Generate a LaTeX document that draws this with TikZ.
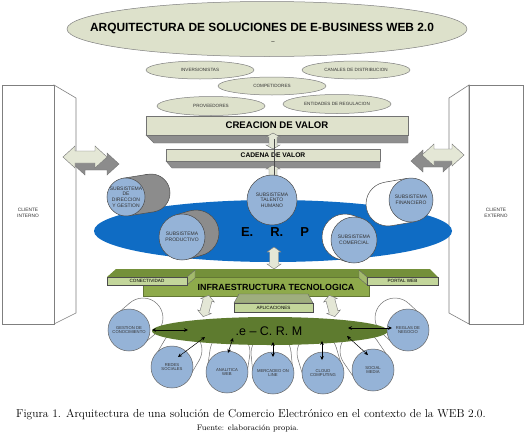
\documentclass[tikz,border=0pt]{standalone}
\usepackage{fontspec}
\setsansfont{Liberation Sans}
\usetikzlibrary{shapes.geometric,calc,arrows.meta}
\definecolor{sage}{HTML}{DDE1CB}
\definecolor{outl}{HTML}{7F7F7F}
\definecolor{cblue}{HTML}{95B3D7}
\definecolor{erpblue}{HTML}{0F6CC4}
\definecolor{cylgray}{HTML}{8C8C8C}
\definecolor{boxface}{HTML}{DFE2CC}
\definecolor{boxshade}{HTML}{8E8E8E}
\definecolor{olive}{HTML}{8EAA4B}
\definecolor{olivetop}{HTML}{74903A}
\definecolor{oliveside}{HTML}{A3BA6C}
\definecolor{olivelight}{HTML}{C3D69B}
\definecolor{crm}{HTML}{5E7B2F}
\definecolor{arrowlight}{HTML}{E4E7D6}
\definecolor{aplitop}{HTML}{9FAE7E}

% cylinder body: #1 front coord, #2 back coord, #3 radius, #4 fill, #5 draw colour
\newcommand\cylbody[5]{%
  \filldraw[fill=#4, draw=#5, line width=0.5pt] (#2) circle (#3);
  \fill[#4] ($(#1)!#3!90:(#2)$) -- ($(#2)!#3!-90:(#1)$) -- ($(#2)!#3!90:(#1)$) -- ($(#1)!#3!-90:(#2)$) -- cycle;
  \draw[#5, line width=0.5pt] ($(#1)!#3!90:(#2)$) -- ($(#2)!#3!-90:(#1)$);
  \draw[#5, line width=0.5pt] ($(#1)!#3!-90:(#2)$) -- ($(#2)!#3!90:(#1)$);
}
% block double arrow: #1 centre, #2 rotation, #3 half length, #4 head length, #5 head half width, #6 shaft half width, #7 fill
\newcommand\blockarrow[7]{%
  \begin{scope}[shift={(#1)}, rotate=#2]
    \filldraw[fill=#7, draw=black!55, line width=0.4pt]
      (0,-#3) -- (#5,-#3+#4) -- (#6,-#3+#4) -- (#6,#3-#4) -- (#5,#3-#4) -- (0,#3)
      -- (-#5,#3-#4) -- (-#6,#3-#4) -- (-#6,-#3+#4) -- (-#5,-#3+#4) -- cycle;
  \end{scope}}

\begin{document}
\begin{tikzpicture}[x=1pt, y=-1pt,
  oval/.style={ellipse, draw=outl, fill=sage, inner sep=0pt, line width=0.5pt,
    font=\sffamily\fontsize{4.6}{5}\selectfont, text=black!80},
  sub/.style={circle, draw=black!70, fill=cblue, inner sep=0pt, line width=0.5pt, align=center,
    font=\sffamily\fontsize{5}{5.6}\selectfont, text=black!80},
  crmc/.style={circle, draw=black!60, fill=cblue, inner sep=0pt, line width=0.5pt, align=center,
    minimum size=42pt, font=\sffamily\fontsize{4.2}{4.8}\selectfont, text=black!80},
  small/.style={font=\sffamily\fontsize{4.8}{5.4}\selectfont, text=black!80, align=center},
  lightbox/.style={fill=olivelight, draw=black!70, line width=0.5pt},
  crmar/.style={{Stealth[length=4pt,width=3.6pt]}-{Stealth[length=4pt,width=3.6pt]}, line width=0.5pt, black}
]
\useasboundingbox[fill=white] (0,0) rectangle (525,445);

% ---------- title ----------
\node[ellipse, draw=outl, fill=sage, line width=0.5pt, minimum width=400pt, minimum height=55pt, inner sep=0pt] (title) at (267,29) {};
\node[font=\sffamily\bfseries\fontsize{11.9}{13}\selectfont] (titletxt) at (262,29) {ARQUITECTURA DE SOLUCIONES DE E-BUSINESS WEB 2.0};
\node[font=\sffamily\fontsize{6}{6}\selectfont] (dash) at (273,43) {--};

% ---------- stakeholders ----------
\node[oval, minimum width=108pt, minimum height=18pt] (inv) at (200,70) {INVERSIONISTAS};
\node[oval, minimum width=108pt, minimum height=18pt] (can) at (356,70) {CANALES DE DISTRIBUCION};
\node[oval, minimum width=108pt, minimum height=18pt] (com) at (272,86) {COMPETIDORES};
\node[oval, minimum width=108pt, minimum height=19pt] (pro) at (211,106) {PROVEEDORES};
\node[oval, minimum width=108pt, minimum height=19pt] (ent) at (337,104) {ENTIDADES DE REGULACION};

% ---------- clients ----------
\filldraw[fill=white, draw=outl, line width=0.6pt] (54,85) -- (76,98) -- (76,313) -- (54,324) -- cycle;
\node[draw=outl, fill=white, line width=0.6pt, minimum width=52pt, minimum height=239pt, inner sep=0pt] (cint) at (28,204.5) {};
\node[small] (cinttxt) at (28,213) {CLIENTE\\INTERNO};
\filldraw[fill=white, draw=outl, line width=0.6pt] (469,85) -- (449,98) -- (449,313) -- (469,324) -- cycle;
\node[draw=outl, fill=white, line width=0.6pt, minimum width=54pt, minimum height=239pt, inner sep=0pt] (cext) at (496,204.5) {};
\node[small] (cexttxt) at (496,213) {CLIENTE\\EXTERNO};

% ---------- side arrows ----------
\blockarrow{96,164}{90}{23}{12}{11}{6}{cylgray}
\blockarrow{85,157}{90}{22}{12}{11}{6}{arrowlight}
\blockarrow{433,161}{90}{22}{12}{11}{6}{cylgray}
\blockarrow{443,155}{90}{21}{12}{11}{6}{arrowlight}

% ---------- creacion / cadena ----------
\filldraw[fill=boxshade, draw=black!55, line width=0.4pt] (146,135) -- (154,143) -- (408,143) -- (408,135) -- cycle;
\node[draw=black!55, fill=boxface, line width=0.5pt, minimum width=262pt, minimum height=19pt, inner sep=0pt,
  font=\sffamily\bfseries\fontsize{9.6}{10}\selectfont] (creacion) at (277,125.5) {CREACION DE VALOR};
\blockarrow{273,141}{0}{8}{4}{7}{4}{arrowlight}
\filldraw[fill=boxshade, draw=black!55, line width=0.4pt] (166,161) -- (172,168) -- (380,168) -- (380,161) -- cycle;
\node[draw=black!55, fill=boxface, line width=0.5pt, minimum width=214pt, minimum height=12pt, inner sep=0pt,
  font=\sffamily\bfseries\fontsize{6.7}{7}\selectfont] (cadena) at (273,155) {CADENA DE VALOR};
\blockarrow{273,173}{0}{8}{4}{7}{4}{arrowlight}
\draw[black!70, line width=0.5pt] (creacion.south) ++(-3,4) coordinate (vl1) -- (274,178) coordinate (vl2);

% ---------- ERP ----------
\node[ellipse, fill=erpblue, minimum width=358pt, minimum height=62pt, inner sep=0pt] (erp) at (273,231) {};
\node[font=\sffamily\bfseries\fontsize{13}{14}\selectfont] (erptxt) at (275,232) {E.\hspace{17pt}R.\hspace{17pt}P};

\coordinate (dirF) at (126,197); \coordinate (dirB) at (151,193);
\cylbody{dirF}{dirB}{19pt}{cylgray}{black!70}
\node[sub, minimum size=38pt] (dir) at (dirF) {SUBSISTEMA\\DE\\DIRECCION\\Y GESTION};

\coordinate (prodF) at (182,237); \coordinate (prodB) at (196,233);
\cylbody{prodF}{prodB}{23pt}{cylgray}{black!70}
\node[sub, minimum size=46pt] (prod) at (prodF) {SUBSISTEMA\\PRODUCTIVO};

\coordinate (finF) at (411,200); \coordinate (finB) at (388,204);
\cylbody{finF}{finB}{22pt}{white}{black!70}
\node[sub, minimum size=44pt] (fin) at (finF) {SUBSISTEMA\\FINANCIERO};

\coordinate (comF) at (354,240); \coordinate (comB) at (345,237);
\cylbody{comF}{comB}{23pt}{white}{black!70}
\node[sub, minimum size=46pt] (comer) at (comF) {SUBSISTEMA\\COMERCIAL};

\node[sub, minimum size=50pt] (tal) at (272,200) {SUBSISTEMA\\TALENTO\\HUMANO};

\blockarrow{274,258}{0}{11}{5}{7}{4.5}{arrowlight}

% ---------- infraestructura ----------
\fill[olivetop] (107,277) -- (116,269) -- (430,269) -- (438,277) -- cycle;
\node[fill=olive, draw=olive!70!black, line width=0.4pt, minimum width=226pt, minimum height=19pt, inner sep=0pt] (infra) at (256,286.5) {};
\fill[oliveside, draw=black!60, line width=0.4pt] (187,277) -- (195,270) -- (195,278) -- (187,285) -- cycle;
\node[lightbox, minimum width=80pt, minimum height=8pt, inner sep=0pt, font=\sffamily\fontsize{4.6}{5}\selectfont] (conec) at (147,281) {CONECTIVIDAD};
\fill[oliveside, draw=black!60, line width=0.4pt] (367,277) -- (359,270) -- (359,278) -- (367,285) -- cycle;
\node[lightbox, minimum width=71pt, minimum height=8pt, inner sep=0pt, font=\sffamily\fontsize{4.6}{5}\selectfont] (portal) at (402.5,281) {PORTAL WEB};
\node[font=\sffamily\bfseries\fontsize{8.9}{9}\selectfont] (infratxt) at (276,287) {INFRAESTRUCTURA TECNOLOGICA};
\filldraw[fill=aplitop, draw=black!60, line width=0.4pt] (234,303) -- (239,294) -- (308,294) -- (313,303) -- cycle;
\node[lightbox, minimum width=79pt, minimum height=9pt, inner sep=0pt, font=\sffamily\fontsize{4.6}{5}\selectfont] (apli) at (273.5,307.5) {APLICACIONES};

\blockarrow{206,306}{-15}{11}{5}{7}{4.5}{arrowlight}
\blockarrow{332,306}{15}{11}{5}{7}{4.5}{arrowlight}

% ---------- e-CRM ----------
\coordinate (gesF) at (129,330); \coordinate (gesB) at (143,318);
\cylbody{gesF}{gesB}{20pt}{white}{black!55}
\coordinate (regF) at (408,330); \coordinate (regB) at (395,318);
\cylbody{regF}{regB}{20pt}{white}{black!55}
\coordinate (redF) at (172,367); \coordinate (redB) at (182,350);
\cylbody{redF}{redB}{20pt}{white}{black!55}
\coordinate (anaF) at (227,372); \coordinate (anaB) at (230,352);
\cylbody{anaF}{anaB}{20pt}{white}{black!55}
\coordinate (merF) at (273,373); \coordinate (merB) at (271,353);
\cylbody{merF}{merB}{20pt}{white}{black!55}
\coordinate (cloF) at (323,373); \coordinate (cloB) at (317,353);
\cylbody{cloF}{cloB}{20pt}{white}{black!55}
\coordinate (socF) at (373,370); \coordinate (socB) at (360,351);
\cylbody{socF}{socB}{20pt}{white}{black!55}

\node[ellipse, fill=crm, minimum width=236pt, minimum height=28pt, inner sep=0pt] (ecrm) at (270,331) {};
\node[font=\sffamily\fontsize{12.5}{13}\selectfont] (ecrmtxt) at (269,331) {.e -- C. R. M};

\node[crmc] (ges) at (gesF) {GESTION DE\\CONOCIMIENTO};
\node[crmc] (reg) at (regF) {REGLAS DE\\NEGOCIO};
\node[crmc] (red) at (redF) {REDES\\SOCIALES};
\node[crmc] (ana) at (anaF) {ANALITICA\\WEB};
\node[crmc] (mer) at (merF) {MERCADEO ON\\LINE};
\node[crmc] (clo) at (cloF) {CLOUD\\COMPUTING};
\node[crmc] (soc) at (socF) {SOCIAL\\MEDIA};

\coordinate (g1) at (152,330); \coordinate (g2) at (188,330);
\coordinate (r1) at (348,328); \coordinate (r2) at (392,328);
\coordinate (s1) at (205,337); \coordinate (s2) at (178,357);
\coordinate (a1) at (233,338); \coordinate (a2) at (228,353);
\coordinate (m1) at (273,342); \coordinate (m2) at (273,357);
\coordinate (c1) at (322,341); \coordinate (c2) at (322,360);
\coordinate (o1) at (347,336); \coordinate (o2) at (368,355);
\draw[crmar] (g1) -- (g2);
\draw[crmar] (r1) -- (r2);
\draw[crmar] (s1) -- (s2);
\draw[crmar] (a1) -- (a2);
\draw[crmar] (m1) -- (m2);
\draw[crmar] (c1) -- (c2);
\draw[crmar] (o1) -- (o2);

% ---------- caption ----------
\node[font=\rmfamily\fontsize{11.5}{13}\selectfont] (cap) at (251,415) {Figura 1. Arquitectura de una solución de Comercio Electrónico en el contexto de la WEB 2.0.};
\node[font=\rmfamily\fontsize{8}{9}\selectfont] (src) at (248,428) {Fuente: elaboración propia.};
\end{tikzpicture}
\end{document}
